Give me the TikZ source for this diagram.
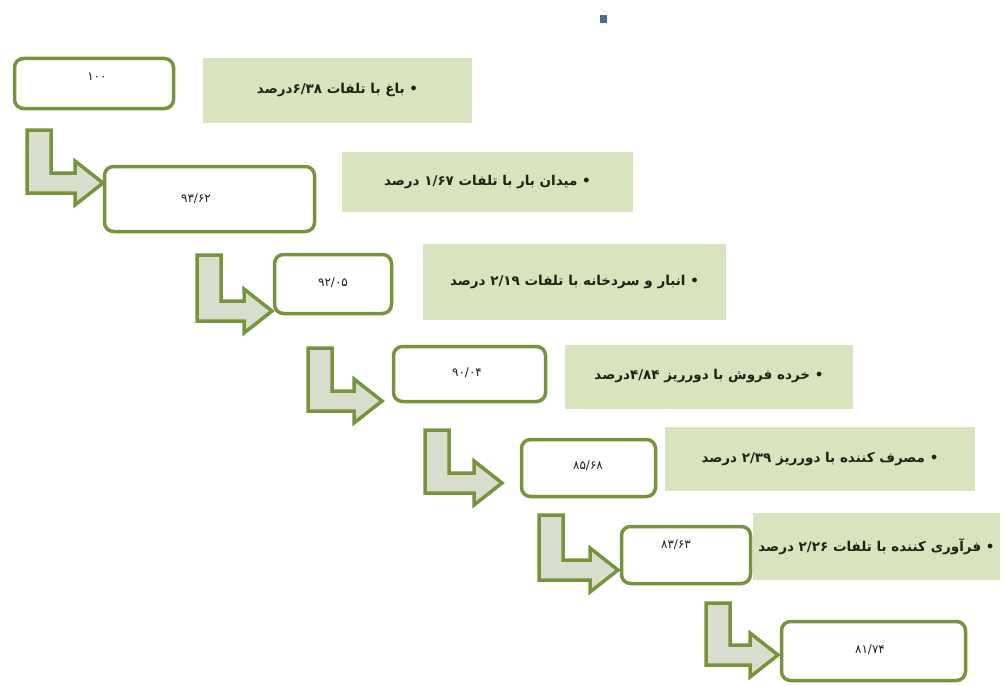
\documentclass[tikz,border=0pt]{standalone}
\usepackage{fontspec}
\TeXXeTstate=1
\newfontfamily\fa[Script=Arabic]{DejaVu Sans}
\definecolor{grn}{HTML}{77933C}
\definecolor{lgrn}{HTML}{D7E4BD}
\definecolor{arw}{HTML}{D8DECD}
\definecolor{sqb}{HTML}{4A6C96}
\definecolor{txt}{HTML}{1E2214}
\newcommand\garrow[4]{%
  \draw[barrow] (#1,#2) -- (#1+24,#2) -- (#1+24,#3-20) -- (#4-28,#3-20) -- (#4-28,#3-32)
    -- (#4,#3-10) -- (#4-28,#3+12) -- (#4-28,#3) -- (#1,#3) -- cycle;}
\tikzset{
  numbox/.style={draw=grn, line width=3.5pt, rounded corners=9pt, fill=white, inner sep=0pt},
  numtxt/.style={text=txt, font=\fa\fontsize{12}{13}\selectfont, inner sep=1pt},
  textrect/.style={fill=lgrn, text=txt, inner sep=0pt, font=\fa\bfseries\fontsize{13.5}{15}\selectfont},
  barrow/.style={draw=grn, line width=3.5pt, fill=arw, line join=miter},
}
\begin{document}
\begin{tikzpicture}[x=1pt,y=-1pt]
\useasboundingbox (0,0) rectangle (1006,685);
\fill[sqb] (600,15) rectangle (607,23);
% text rectangles
\node[textrect, minimum width=269, minimum height=65] (r1) at (337.5,90.5) {\beginR • باغ با تلفات \beginL۶/۳۸\endL{}درصد\endR};
\node[textrect, minimum width=291, minimum height=60] (r2) at (487.5,182) {\beginR • میدان بار با تلفات \beginL۱/۶۷\endL{} درصد\endR};
\node[textrect, minimum width=303, minimum height=76] (r3) at (574.5,282) {\beginR • انبار و سردخانه با تلفات \beginL۲/۱۹\endL{} درصد\endR};
\node[textrect, minimum width=288, minimum height=64] (r4) at (709,376.5) {\beginR • خرده فروش با دورریز \beginL۴/۸۴\endL{}درصد\endR};
\node[textrect, minimum width=310, minimum height=64] (r5) at (820,459) {\beginR • مصرف کننده با دورریز \beginL۲/۳۹\endL{} درصد\endR};
\node[textrect, minimum width=247, minimum height=67] (r6) at (876.5,546.5) {\beginR • فرآوری کننده با تلفات \beginL۲/۲۶\endL{} درصد\endR};
% arrows
\garrow{27}{130}{193}{103}
\garrow{197}{255}{321}{272}
\garrow{308}{348}{411}{382}
\garrow{425}{430}{493}{502}
\garrow{539}{515}{580}{618}
\garrow{706}{603}{665}{778}
% number boxes
\node[numbox, minimum width=159, minimum height=50] (b1) at (94,83.5) {};
\node[numbox, minimum width=210, minimum height=65] (b2) at (209.5,199) {};
\node[numbox, minimum width=117, minimum height=59] (b3) at (333,284) {};
\node[numbox, minimum width=152, minimum height=55] (b4) at (469.5,374) {};
\node[numbox, minimum width=134, minimum height=57] (b5) at (588.5,468) {};
\node[numbox, minimum width=129, minimum height=57] (b6) at (686,555) {};
\node[numbox, minimum width=184, minimum height=59] (b7) at (873.5,651) {};
\node[numtxt] (n1) at (97,77) {\beginL۱۰۰\endL};
\node[numtxt] (n2) at (196,199) {\beginL۹۳/۶۲\endL};
\node[numtxt] (n3) at (333,283) {\beginL۹۲/۰۵\endL};
\node[numtxt] (n4) at (467,373) {\beginL۹۰/۰۴\endL};
\node[numtxt] (n5) at (588,466) {\beginL۸۵/۶۸\endL};
\node[numtxt] (n6) at (676,545) {\beginL۸۳/۶۳\endL};
\node[numtxt] (n7) at (870,650) {\beginL۸۱/۷۴\endL};
\end{tikzpicture}
\end{document}
